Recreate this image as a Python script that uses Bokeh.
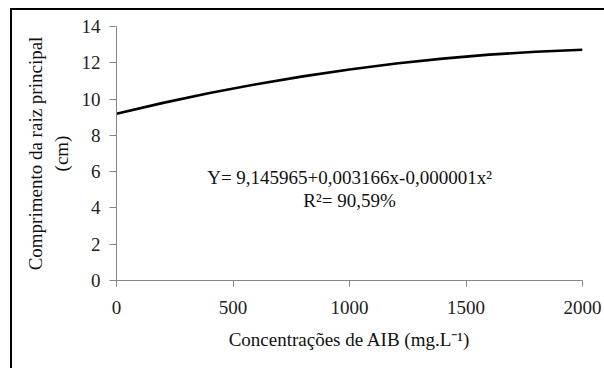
from bokeh.plotting import figure
from bokeh.models import Label, Range1d, FixedTicker
from bokeh.embed import file_html
from bokeh.resources import INLINE

# Values
conc = [0, 200, 400, 600, 800, 1000, 1200, 1400, 1600, 1800, 2000]
length = [9.19, 9.79, 10.33, 10.82, 11.25, 11.63, 11.96, 12.23, 12.45, 12.61, 12.72]
x_ticks = [0, 500, 1000, 1500, 2000]
y_ticks = [0, 2, 4, 6, 8, 10, 12, 14]
equation = "Y= 9,145965+0,003166x-0,000001x²"
r2_text = "R²= 90,59%"
x_title = "Concentrações de AIB (mg.L⁻¹)"
y_title = "Comprimento da raiz principal\n(cm)"

FONT = "Liberation Serif"
FS = "19px"
W, H = 604, 368

p = figure(width=W, height=H, output_backend="svg", toolbar_location=None,
           x_range=Range1d(0, 2000), y_range=Range1d(0, 14),
           min_border_left=116, min_border_right=22,
           min_border_top=26, min_border_bottom=88)
p.outline_line_color = None
p.grid.visible = False
p.background_fill_color = None
p.border_fill_color = None
# frame lines of the original picture (top and left), drawn as page background
p.styles = {
    "background-color": "white",
    "background-image": "linear-gradient(#000,#000), linear-gradient(#000,#000)",
    "background-size": "calc(100% - 11px) 2px, 2px calc(100% - 8px)",
    "background-position": "11px 8px, 10px 8px",
    "background-repeat": "no-repeat",
}

for ax in (p.xaxis[0], p.yaxis[0]):
    ax.axis_line_color = "#868686"
    ax.major_tick_line_color = "#868686"
    ax.minor_tick_line_color = None
    ax.major_tick_in = 0
    ax.major_label_text_font = FONT
    ax.major_label_text_font_size = FS
    ax.major_label_text_color = "#222222"
    ax.axis_label_text_font = FONT
    ax.axis_label_text_font_size = FS
    ax.axis_label_text_font_style = "normal"
    ax.axis_label_text_color = "#111111"
p.xaxis.ticker = FixedTicker(ticks=x_ticks)
p.yaxis.ticker = FixedTicker(ticks=y_ticks)
p.xaxis.major_tick_out = 6
p.yaxis.major_tick_out = 7
p.xaxis.major_label_standoff = 14
p.yaxis.major_label_standoff = 9
p.xaxis.axis_label = x_title
p.xaxis.axis_label_standoff = 12
p.yaxis.axis_label = y_title
p.yaxis.axis_label_standoff = 7

p.line(conc, length, line_color="black", line_width=2.6)

p.add_layout(Label(x=1000, y=5.68, text=equation, text_align="center",
                   text_baseline="alphabetic", text_font=FONT,
                   text_font_size=FS, text_color="#111111"))
p.add_layout(Label(x=1000, y=4.41, text=r2_text, text_align="center",
                   text_baseline="alphabetic", text_font=FONT,
                   text_font_size=FS, text_color="#111111"))

open("out.html", "w").write(file_html(p, INLINE))
